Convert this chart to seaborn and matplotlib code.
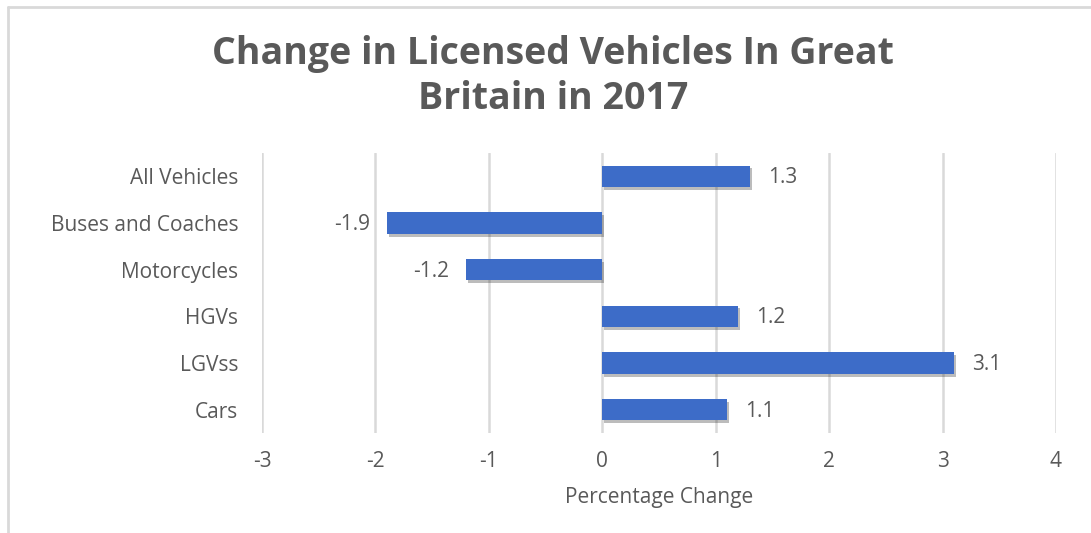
import matplotlib
matplotlib.use("Agg")
import matplotlib.pyplot as plt
import matplotlib.patheffects as pe
from matplotlib.lines import Line2D
import seaborn as sns
import pandas as pd

categories = ["All Vehicles", "Buses and Coaches", "Motorcycles", "HGVs", "LGVss", "Cars"]
values = [1.3, -1.9, -1.2, 1.2, 3.1, 1.1]
x_ticks = [-3, -2, -1, 0, 1, 2, 3, 4]
title = "Change in Licensed Vehicles In Great\nBritain in 2017"
x_label = "Percentage Change"

sns.set_theme(style="white")
plt.rcParams['font.family'] = ['Open Sans', 'DejaVu Sans']

df = pd.DataFrame({"category": categories, "value": values})

fig = plt.figure(figsize=(10.91, 5.33), dpi=100)
ax = fig.add_axes([262/1091, 1-433/533, (1056-262)/1091, (433-153)/533])

grey = "#595959"
bar_color = "#3D6CC8"

sns.barplot(data=df, x="value", y="category", orient="h", order=categories,
            color=bar_color, width=0.46, ax=ax, saturation=1, zorder=3)

for p in ax.patches:
    p.set_path_effects([pe.SimplePatchShadow(offset=(1.5, -2), shadow_rgbFace="#222222", alpha=0.3),
                        pe.Normal()])
    p.set_edgecolor("none")

ax.set_xlim(-3, 4)
ax.set_ylim(5.5, -0.5)
ax.set_xticks(x_ticks)
ax.set_xticklabels([str(t) for t in x_ticks])
ax.grid(axis="x", color="#d9d9d9", linewidth=1.8, zorder=0)
ax.grid(axis="y", visible=False)
for s in ax.spines.values():
    s.set_visible(False)
ax.tick_params(axis="both", length=0, colors=grey, labelsize=15)
ax.tick_params(axis="x", pad=13)
ax.tick_params(axis="y", pad=17)
ax.set_ylabel("")
ax.set_xlabel(x_label, color=grey, fontsize=15, labelpad=11)

for i, v in enumerate(values):
    if v >= 0:
        ax.annotate(f"{v}", (v, i), xytext=(13, -1), textcoords="offset points",
                    ha="left", va="center", color=grey, fontsize=15)
    else:
        ax.annotate(f"{v}", (v, i), xytext=(-12, -1), textcoords="offset points",
                    ha="right", va="center", color=grey, fontsize=15)

fig.suptitle(title, x=553/1091, y=1-35/533, ha="center", va="top",
             fontsize=27, fontweight="bold", color=grey, linespacing=1.25)

# outer chart frame (top and left edges visible)
fig.add_artist(Line2D([8/1091, 8/1091], [0, 1-7/533], transform=fig.transFigure,
                      color="#d9d9d9", linewidth=2))
fig.add_artist(Line2D([8/1091, 1], [1-7/533, 1-7/533], transform=fig.transFigure,
                      color="#d9d9d9", linewidth=2))

fig.savefig("out.png", dpi=100)
